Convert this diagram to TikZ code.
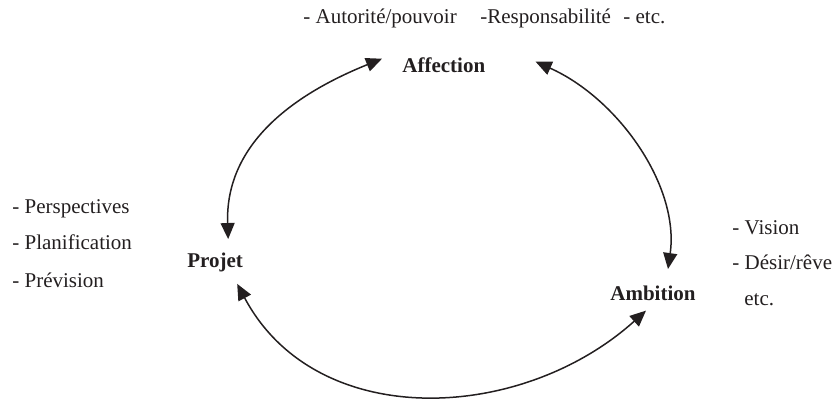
\documentclass[tikz,border=0pt]{standalone}
\usepackage{fontspec}
\setmainfont{Liberation Serif}
\usetikzlibrary{arrows.meta}
\definecolor{ink}{RGB}{35,31,32}
\begin{document}
\begin{tikzpicture}[x=0.5pt,y=0.5pt,
  txt/.style={anchor=base west, inner sep=0pt, text=ink,
    font=\fontsize{10.5}{12}\selectfont},
  key/.style={txt, font=\fontsize{10.5}{12}\selectfont\bfseries},
  link/.style={draw=ink, line width=0.75pt,
    {Triangle[length=8pt,width=7pt]}-{Triangle[length=8pt,width=7pt]}}]
\useasboundingbox (0,0) rectangle (834,398);

% attribute lists
\node[txt] (t1) at (303,375) {- Autorité/pouvoir};
\node[txt] (t2) at (480,375) {-Responsabilité};
\node[txt] (t3) at (623,375) {- etc.};

\node[txt] (l1) at (12,185) {- Perspectives};
\node[txt] (l2) at (12,149) {- Planification};
\node[txt] (l3) at (12,111) {- Prévision};

\node[txt] (r1) at (732,164) {- Vision};
\node[txt] (r2) at (732,129) {- Désir/rêve};
\node[txt] (r3) at (744,93) {etc.};

% the three poles of the cycle
\node[key] (affection) at (402,326) {Affection};
\node[key] (projet) at (187,131) {Projet};
\node[key] (ambition) at (610,98) {Ambition};

% arrow ends around each pole
\coordinate (aff-w) at ([shift={(-20,6)}]affection.west);
\coordinate (aff-e) at ([shift={(50,3)}]affection.east);
\coordinate (pro-n) at ([shift={(13,13)}]projet.north);
\coordinate (pro-s) at ([shift={(22,-12)}]projet.south);
\coordinate (amb-n) at ([shift={(15,16)}]ambition.north);
\coordinate (amb-s) at ([shift={(-7,-10)}]ambition.south);

% cycle
\draw[link] (pro-n) to[out=92, in=202, out distance=44pt, in distance=54pt] (aff-w);
\draw[link] (amb-n) to[out=82, in=-24, out distance=42pt, in distance=45pt] (aff-e);
\draw[link] (pro-s) to[out=-62, in=222, out distance=84pt, in distance=84pt] (amb-s);
\end{tikzpicture}
\end{document}
